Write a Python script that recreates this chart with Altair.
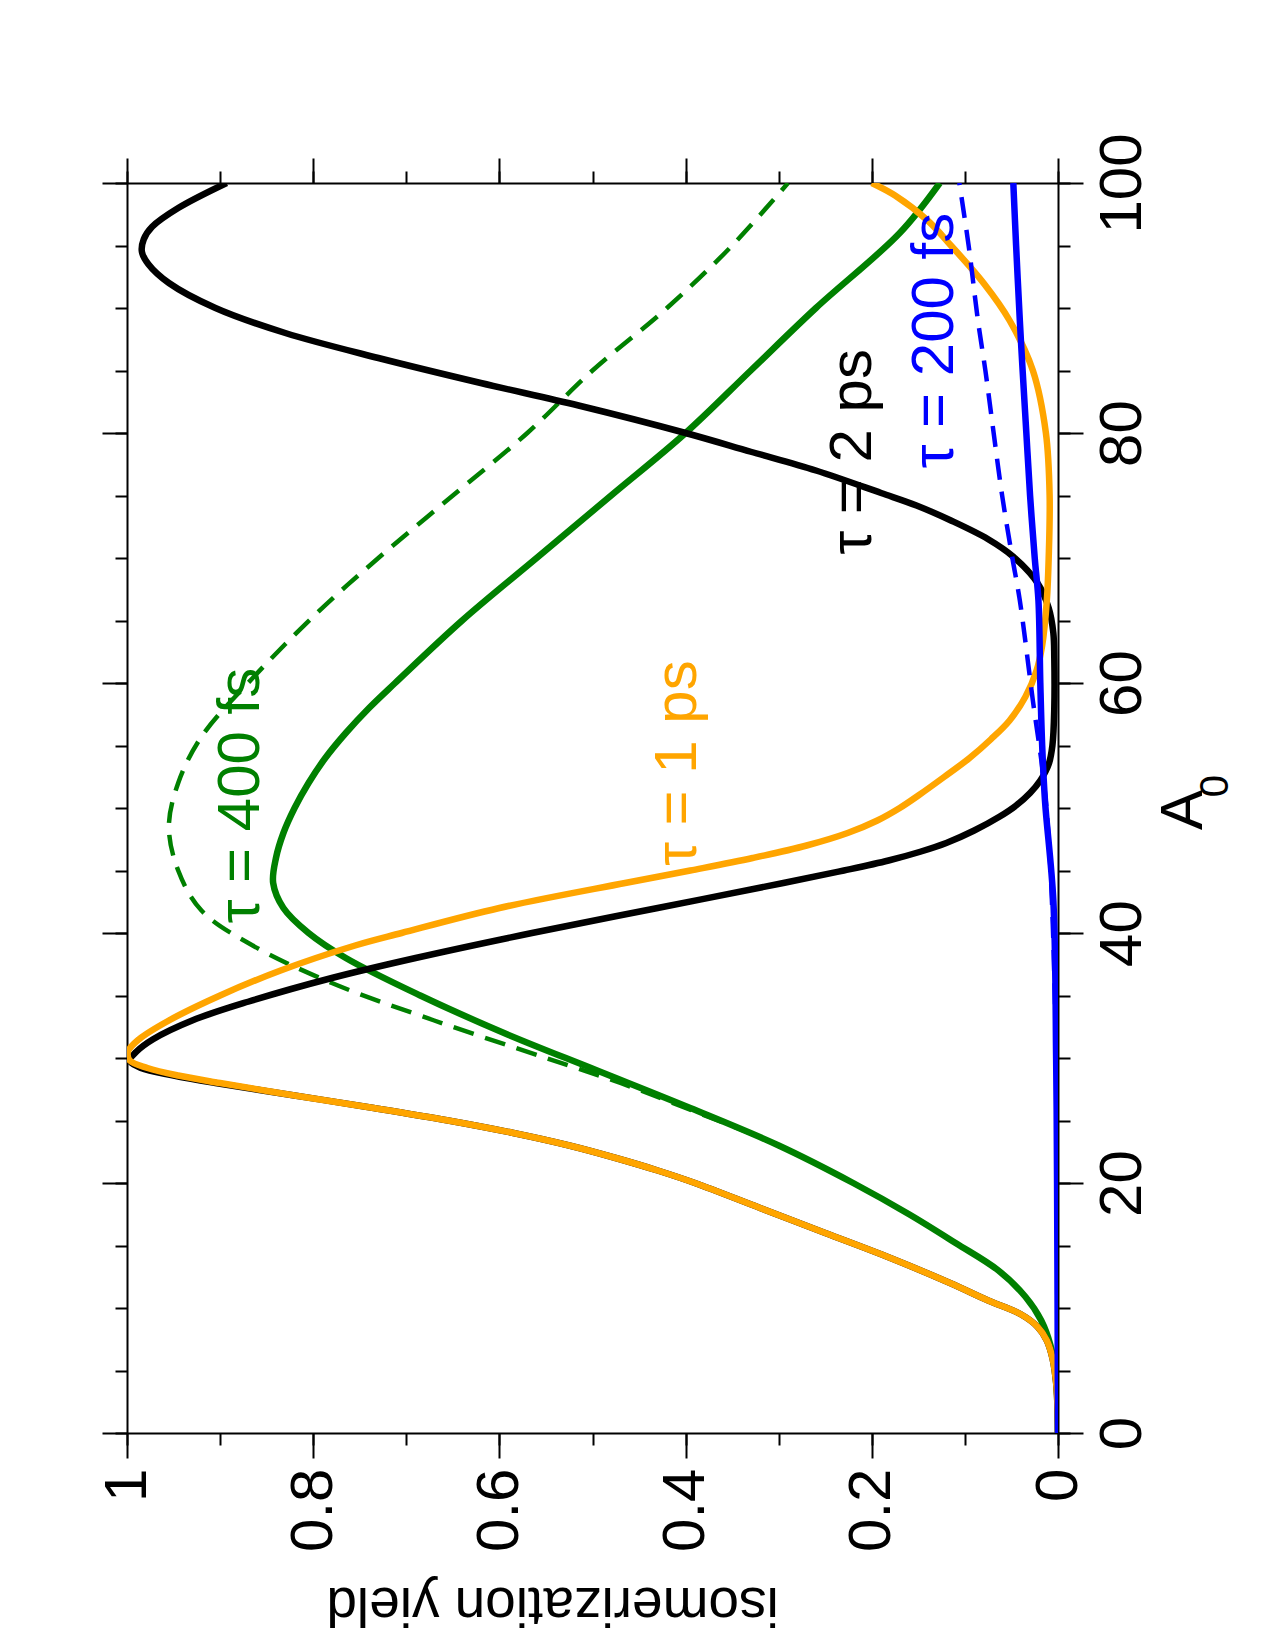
import altair as alt
import pandas as pd

FONT = "Liberation Sans"

# ---- data (A0, isomerization yield) ----
black_a0 = [0, 2, 4, 6, 7.4, 8.5, 9.5, 10.6, 12, 14, 16, 18, 20, 21, 22, 23, 24, 25, 26, 27, 28, 28.6, 29.2, 29.8, 30.5, 31.5, 33, 34.5, 36.4, 38, 40, 42, 44, 45, 45.8, 46.5, 47.2, 48.2, 49.3, 50.2, 51.2, 52.2, 53.5, 55, 58, 62, 64, 66, 68, 70.1, 71.5, 73, 74.2, 75.2, 77, 78.5, 80, 82.2, 84, 86, 88, 90, 92, 93.5, 94.5, 95.5, 96.5, 98, 100]
black_y = [0, 0.0005, 0.002, 0.006, 0.012, 0.022, 0.04, 0.075, 0.116, 0.18, 0.25, 0.32, 0.39, 0.43, 0.475, 0.525, 0.585, 0.655, 0.735, 0.82, 0.905, 0.95, 0.985, 0.997, 0.99, 0.972, 0.93, 0.87, 0.78, 0.69, 0.565, 0.43, 0.295, 0.23, 0.182, 0.148, 0.12, 0.09, 0.063, 0.045, 0.03, 0.019, 0.01, 0.006, 0.004, 0.004, 0.005, 0.01, 0.022, 0.048, 0.075, 0.115, 0.152, 0.19, 0.26, 0.33, 0.4, 0.515, 0.62, 0.73, 0.83, 0.905, 0.955, 0.977, 0.984, 0.982, 0.973, 0.945, 0.893]

orange_a0 = [0, 2, 4, 6, 7.4, 8.5, 9.5, 10.6, 12, 14, 16, 18, 20, 21, 22, 23, 24, 25, 26, 27, 28, 28.6, 29.2, 29.8, 30.5, 31.5, 33, 35, 37, 39, 40, 42, 44, 45, 46, 47, 48, 49, 50, 51, 52.5, 54, 55.5, 57, 58.9, 61, 63, 66.6, 70, 75, 80, 85, 89, 92, 95, 97, 99, 100]
orange_y = [0, 0.0005, 0.002, 0.006, 0.012, 0.022, 0.04, 0.075, 0.116, 0.18, 0.25, 0.32, 0.39, 0.43, 0.475, 0.525, 0.585, 0.655, 0.735, 0.82, 0.9, 0.945, 0.978, 0.997, 0.999, 0.987, 0.955, 0.9, 0.835, 0.755, 0.705, 0.6, 0.465, 0.395, 0.328, 0.27, 0.226, 0.194, 0.17, 0.15, 0.122, 0.095, 0.072, 0.052, 0.035, 0.023, 0.017, 0.012, 0.01, 0.009, 0.013, 0.027, 0.052, 0.08, 0.115, 0.14, 0.175, 0.2]

green_a0 = [0, 3, 5, 7, 9, 10.9, 13, 15.2, 17.5, 20, 23, 26, 29, 32, 35, 38, 40, 42, 44, 46, 48, 50, 52, 54, 56, 58, 60, 65, 70, 75, 80, 85, 90, 96, 100]
green_y = [0, 0.0008, 0.003, 0.008, 0.018, 0.035, 0.064, 0.11, 0.16, 0.22, 0.3, 0.395, 0.495, 0.595, 0.685, 0.765, 0.805, 0.832, 0.843, 0.84, 0.832, 0.82, 0.805, 0.787, 0.765, 0.74, 0.712, 0.64, 0.56, 0.48, 0.4, 0.33, 0.26, 0.17, 0.127]

greend_a0 = [0, 3, 5, 7, 9, 10.9, 13, 15.2, 17.5, 20, 23, 26, 28, 30, 33, 36, 39, 41.8, 45, 48.5, 52, 55.7, 60, 65.6, 70, 75, 80, 85, 90, 95, 100]
greend_y = [0, 0.0008, 0.003, 0.008, 0.018, 0.035, 0.064, 0.11, 0.16, 0.22, 0.3, 0.4, 0.47, 0.55, 0.67, 0.78, 0.865, 0.92, 0.945, 0.955, 0.945, 0.92, 0.87, 0.796, 0.73, 0.65, 0.57, 0.5, 0.42, 0.35, 0.29]

blue_a0 = [0, 20, 30, 42.6, 50.6, 55, 60, 66.6, 70, 75, 80, 85, 89, 95, 100]
blue_y = [0, 0.001, 0.002, 0.005, 0.014, 0.017, 0.019, 0.021, 0.025, 0.03, 0.034, 0.038, 0.041, 0.045, 0.048]

blued_a0 = [0, 20, 30, 45, 52, 58.6, 66.6, 70, 75, 80.5, 85, 89, 95, 100]
blued_y = [0, 0.001, 0.002, 0.008, 0.015, 0.027, 0.041, 0.049, 0.06, 0.07, 0.078, 0.086, 0.096, 0.106]

labels = ["τ = 2 ps", "τ = 1 ps", "τ = 400 fs", "τ = 200 fs"]
label_a0 = [78.5, 53.6, 51.0, 87.4]
label_y = [0.22, 0.408, 0.878, 0.132]
label_color = ["#000000", "#FFA500", "#008000", "#0000FF"]

yield_major = [0, 0.2, 0.4, 0.6, 0.8, 1]
yield_minor = [0, 0.1, 0.2, 0.3, 0.4, 0.5, 0.6, 0.7, 0.8, 0.9, 1]
a0_major = [0, 20, 40, 60, 80, 100]
a0_minor = list(range(0, 101, 5))

W, H = 931, 1250

xscale = alt.Scale(domain=[0, 1], reverse=True, nice=False, zero=False)
yscale = alt.Scale(domain=[0, 100], nice=False, zero=False)


def curve(a0, y, color, width, dash=None):
    df = pd.DataFrame({"A0": a0, "yield": y})
    kw = dict(color=color, strokeWidth=width, clip=True, interpolate="catmull-rom")
    if dash:
        kw["strokeDash"] = dash
    return alt.Chart(df).mark_line(**kw).encode(
        x=alt.X("yield:Q", scale=xscale, axis=None),
        y=alt.Y("A0:Q", scale=yscale, axis=None),
        order=alt.Order("A0:Q"),
    )


lab_expr = "datum.value == 0 ? '0' : datum.value == 1 ? '1' : format(datum.value, '.1f')"
dummy = pd.DataFrame({"A0": [0], "yield": [0]})


def axis_layer(xorient, yorient, xvals, yvals, tsize, labels_on, domain_on):
    xa = dict(orient=xorient, values=xvals, tickSize=tsize, tickWidth=2, tickColor="black",
              domain=domain_on, domainColor="black", domainWidth=2, grid=False,
              labels=labels_on, title="")
    ya = dict(orient=yorient, values=yvals, tickSize=tsize, tickWidth=2, tickColor="black",
              domain=domain_on, domainColor="black", domainWidth=2, grid=False,
              labels=labels_on, title="")
    if labels_on:
        xa.update(labelAngle=270, labelAlign="right", labelBaseline="middle", labelPadding=10,
                  labelFontSize=60, labelFont=FONT, labelColor="black", labelExpr=lab_expr,
                  title="isomerization yield", titleAngle=180, titleFontSize=55, titleFont=FONT,
                  titleFontWeight="normal", titleColor="black", titleBaseline="alphabetic",
                  titleAlign="center", titleX=425, titleY=154)
        ya.update(labelAngle=270, labelAlign="center", labelBaseline="top", labelPadding=10,
                  labelFontSize=60, labelFont=FONT, labelColor="black")
    return alt.Chart(dummy).mark_point(opacity=0).encode(
        x=alt.X("yield:Q", scale=xscale, axis=alt.Axis(**xa)),
        y=alt.Y("A0:Q", scale=yscale, axis=alt.Axis(**ya)),
    )


ax1 = axis_layer("bottom", "right", yield_major, a0_major, 25, True, True)
ax2 = axis_layer("top", "left", yield_major, a0_major, 25, False, True)
ax3 = axis_layer("bottom", "right", yield_minor, a0_minor, 12, False, False)
ax4 = axis_layer("top", "left", yield_minor, a0_minor, 12, False, False)

lines = [
    curve(green_a0, green_y, "#008000", 6.5),
    curve(greend_a0, greend_y, "#008000", 4.5, [21, 12]),
    curve(black_a0, black_y, "#000000", 6.5),
    curve(orange_a0, orange_y, "#FFA500", 6.5),
    curve(blued_a0, blued_y, "#0000FF", 4.5, [21, 12]),
    curve(blue_a0, blue_y, "#0000FF", 6.5),
]

lab_df = pd.DataFrame({"label": labels, "A0": label_a0, "yield": label_y, "color": label_color})
annot = alt.Chart(lab_df).mark_text(angle=270, fontSize=60, font=FONT, align="center",
                                    baseline="middle").encode(
    x=alt.X("yield:Q", scale=xscale, axis=None),
    y=alt.Y("A0:Q", scale=yscale, axis=None),
    text="label:N",
    color=alt.Color("color:N", scale=None),
)

# A0 axis title (A with subscript 0)
tA = alt.Chart(pd.DataFrame({"t": ["A"]})).mark_text(
    angle=270, fontSize=60, font=FONT, align="center", baseline="alphabetic", color="black"
).encode(x=alt.value(1075), y=alt.value(627), text="t:N")
t0 = alt.Chart(pd.DataFrame({"t": ["0"]})).mark_text(
    angle=270, fontSize=40, font=FONT, align="center", baseline="alphabetic", color="black"
).encode(x=alt.value(1101), y=alt.value(603), text="t:N")

chart = alt.layer(ax3, ax4, ax1, ax2, *lines, annot, tA, t0).resolve_axis(
    x="independent", y="independent"
).properties(
    width=W, height=H,
    autosize=alt.AutoSizeParams(type="none"),
    padding={"left": 127, "top": 183, "right": 217, "bottom": 217},
).configure_view(stroke=None).configure(background="white")

chart.save("out.html", embed_options={"renderer": "svg", "actions": False})
